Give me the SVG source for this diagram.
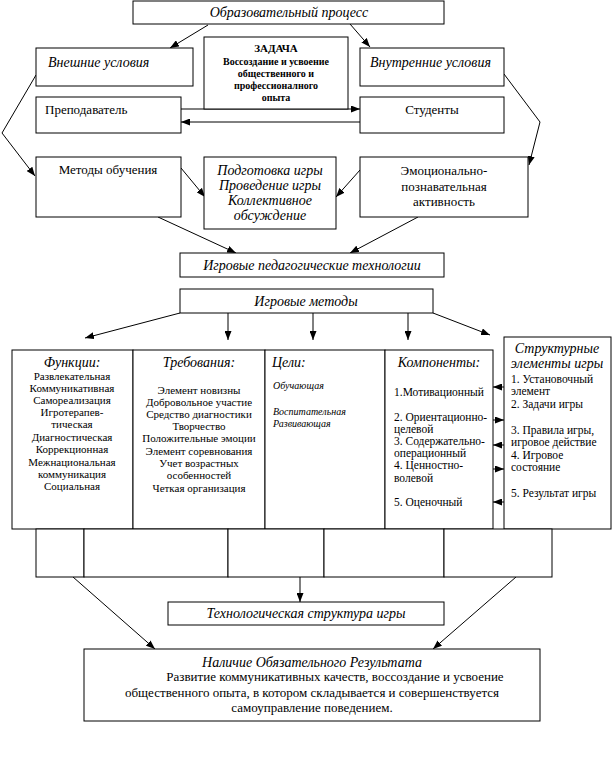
<svg xmlns="http://www.w3.org/2000/svg" width="614" height="758" viewBox="0 0 614 758">
<defs>
<marker id="ah" markerWidth="9" markerHeight="7" refX="9" refY="3.5" orient="auto" markerUnits="userSpaceOnUse">
<path d="M0,0 L9,3.5 L0,7 z" fill="#000"/>
</marker>
<style>
.b{fill:#fff;stroke:#000;stroke-width:1}
.t{font-family:"Liberation Serif","Times New Roman",serif;font-size:13px;fill:#000}
.i{font-style:italic;font-size:14px}
.c{text-anchor:middle}
.s{font-size:11px}
.m{font-size:11.5px}
.z{font-weight:bold;font-size:10px}
.ln{fill:none;stroke:#000;stroke-width:1}
.a{marker-end:url(#ah)}
</style>
</defs>
<rect width="614" height="758" fill="#fff"/>

<g id="connectors">
<path class="ln a" d="M208,25 L170,48"/>
<path class="ln a" d="M350,24 L370,47"/>
<path class="ln a" d="M181,109 L360,109"/>
<path class="ln a" d="M360,122 L181,122"/>
<path class="ln a" d="M36,75 L2,133 L35,176"/>
<path class="ln a" d="M504,74 L540,122 L529,165"/>
<path class="ln a" d="M181,168 L205,197"/>
<path class="ln a" d="M360,170 L336,197"/>
<path class="ln a" d="M158,217 L236,253"/>
<path class="ln a" d="M418,217 L350,253"/>
<path class="ln a" d="M180,313 L85,338"/>
<path class="ln a" d="M228,313 L228,340"/>
<path class="ln a" d="M313,313 L313,340"/>
<path class="ln a" d="M408,313 L408,340"/>
<path class="ln a" d="M433,313 L490,335"/>
<path class="ln a" d="M504,387 L493,387"/>
<path class="ln a" d="M493,420 L504,420"/>
<path class="ln a" d="M504,445 L493,445"/>
<path class="ln a" d="M493,469 L504,469"/>
<path class="ln a" d="M504,502 L493,502"/>
<path class="ln a" d="M300,577 L300,602"/>
<path class="ln a" d="M73,577 L155,649"/>
<path class="ln a" d="M516,577 L433,649"/>
</g>

<g id="process">
<rect class="b" x="133" y="1" width="311" height="23"/>
<text class="t i c" x="289" y="17">Образовательный процесс</text>
</g>

<g id="external">
<rect class="b" x="36" y="48" width="157" height="38"/>
<text class="t i" x="48" y="67">Внешние условия</text>
</g>

<g id="task">
<rect class="b" x="204" y="37" width="144" height="72"/>
<text class="t z c" x="276" y="52" style="font-size:11px">ЗАДАЧА</text>
<text class="t z c" x="276" y="65">Воссоздание и усвоение</text>
<text class="t z c" x="276" y="77">общественного и</text>
<text class="t z c" x="276" y="89">профессионалного</text>
<text class="t z c" x="276" y="101">опыта</text>
</g>

<g id="internal">
<rect class="b" x="360" y="48" width="144" height="38"/>
<text class="t i" x="370" y="67">Внутренние условия</text>
</g>

<g id="teacher">
<rect class="b" x="36" y="97" width="145" height="36"/>
<text class="t" x="45" y="114">Преподаватель</text>
</g>

<g id="students">
<rect class="b" x="360" y="97" width="144" height="36"/>
<text class="t c" x="432" y="114">Студенты</text>
</g>

<g id="methods">
<rect class="b" x="36" y="157" width="145" height="60"/>
<text class="t c" x="108" y="174">Методы обучения</text>
</g>

<g id="game-stages">
<rect class="b" x="204" y="157" width="132" height="72"/>
<text class="t i c" x="270" y="175">Подготовка игры</text>
<text class="t i c" x="270" y="190">Проведение игры</text>
<text class="t i c" x="270" y="205">Коллективное</text>
<text class="t i c" x="270" y="220">обсуждение</text>
</g>

<g id="emotional">
<rect class="b" x="360" y="157" width="168" height="60"/>
<text class="t c" x="444" y="175">Эмоционально-</text>
<text class="t c" x="444" y="191">познавательная</text>
<text class="t c" x="444" y="206">активность</text>
</g>

<g id="game-tech">
<rect class="b" x="180" y="253" width="264" height="24"/>
<text class="t i c" x="312" y="270">Игровые педагогические технологии</text>
</g>

<g id="game-methods">
<rect class="b" x="180" y="289" width="253" height="24"/>
<text class="t i c" x="306" y="306">Игровые методы</text>
</g>

<g id="functions">
<rect class="b" x="12" y="350" width="121" height="179"/>
<text class="t i c" x="72" y="367">Функции:</text>
<text class="t s c" x="72" y="380">Развлекательная</text>
<text class="t s c" x="72" y="392">Коммуникативная</text>
<text class="t s c" x="72" y="404">Самореализация</text>
<text class="t s c" x="72" y="416">Игротерапев-</text>
<text class="t s c" x="72" y="428">тическая</text>
<text class="t s c" x="72" y="441">Диагностическая</text>
<text class="t s c" x="72" y="453">Коррекционная</text>
<text class="t s c" x="72" y="466">Межнациональная</text>
<text class="t s c" x="72" y="478">коммуникация</text>
<text class="t s c" x="72" y="490">Социальная</text>
</g>

<g id="requirements">
<rect class="b" x="133" y="350" width="132" height="179"/>
<text class="t i c" x="199" y="367">Требования:</text>
<text class="t s c" x="199" y="394">Элемент новизны</text>
<text class="t s c" x="199" y="406">Добровольное участие</text>
<text class="t s c" x="199" y="418">Средство диагностики</text>
<text class="t s c" x="199" y="430">Творчество</text>
<text class="t s c" x="199" y="442">Положительные эмоции</text>
<text class="t s c" x="199" y="455">Элемент соревнования</text>
<text class="t s c" x="199" y="467">Учет возрастных</text>
<text class="t s c" x="199" y="479">особенностей</text>
<text class="t s c" x="199" y="492">Четкая организация</text>
</g>

<g id="goals">
<rect class="b" x="265" y="350" width="120" height="179"/>
<text class="t i" x="272" y="367">Цели:</text>
<text class="t i" x="273" y="389" style="font-size:10px">Обучающая</text>
<text class="t i" x="273" y="415" style="font-size:10px">Воспитательная</text>
<text class="t i" x="273" y="427" style="font-size:10px">Развивающая</text>
</g>

<g id="components">
<rect class="b" x="385" y="350" width="108" height="179"/>
<text class="t i c" x="439" y="367">Компоненты:</text>
<text class="t m" x="394" y="396">1.Мотивационный</text>
<text class="t m" x="394" y="421">2. Ориентационно-</text>
<text class="t m" x="394" y="433">целевой</text>
<text class="t m" x="394" y="445">3. Содержательно-</text>
<text class="t m" x="394" y="457">операционный</text>
<text class="t m" x="394" y="469">4. Ценностно-</text>
<text class="t m" x="394" y="482">волевой</text>
<text class="t m" x="394" y="506">5. Оценочный</text>
</g>

<g id="structure">
<rect class="b" x="504" y="337" width="107" height="192"/>
<text class="t i c" x="557" y="353">Структурные</text>
<text class="t i c" x="557" y="368">элементы игры</text>
<text class="t m" x="511" y="383">1. Установочный</text>
<text class="t m" x="511" y="395">элемент</text>
<text class="t m" x="511" y="408">2. Задачи игры</text>
<text class="t m" x="511" y="434">3. Правила игры,</text>
<text class="t m" x="511" y="446">игровое действие</text>
<text class="t m" x="511" y="459">4. Игровое</text>
<text class="t m" x="511" y="471">состояние</text>
<text class="t m" x="511" y="497">5. Результат игры</text>
</g>

<g id="row-1"><rect class="b" x="36" y="529" width="48" height="48"/></g>
<g id="row-2"><rect class="b" x="84" y="529" width="144" height="48"/></g>
<g id="row-3"><rect class="b" x="228" y="529" width="96" height="48"/></g>
<g id="row-4"><rect class="b" x="324" y="529" width="120" height="48"/></g>
<g id="row-5"><rect class="b" x="444" y="529" width="108" height="48"/></g>

<g id="tech-structure">
<rect class="b" x="168" y="602" width="276" height="23"/>
<text class="t i c" x="306" y="618">Технологическая структура игры</text>
</g>

<g id="result">
<rect class="b" x="84" y="649" width="456" height="72"/>
<text class="t i c" x="312" y="667">Наличие Обязательного Результата</text>
<text class="t c" x="335" y="681">Развитие коммуникативных качеств, воссоздание и усвоение</text>
<text class="t c" x="312" y="697">общественного опыта, в котором складывается и совершенствуется</text>
<text class="t c" x="312" y="712">самоуправление поведением.</text>
</g>
</svg>
